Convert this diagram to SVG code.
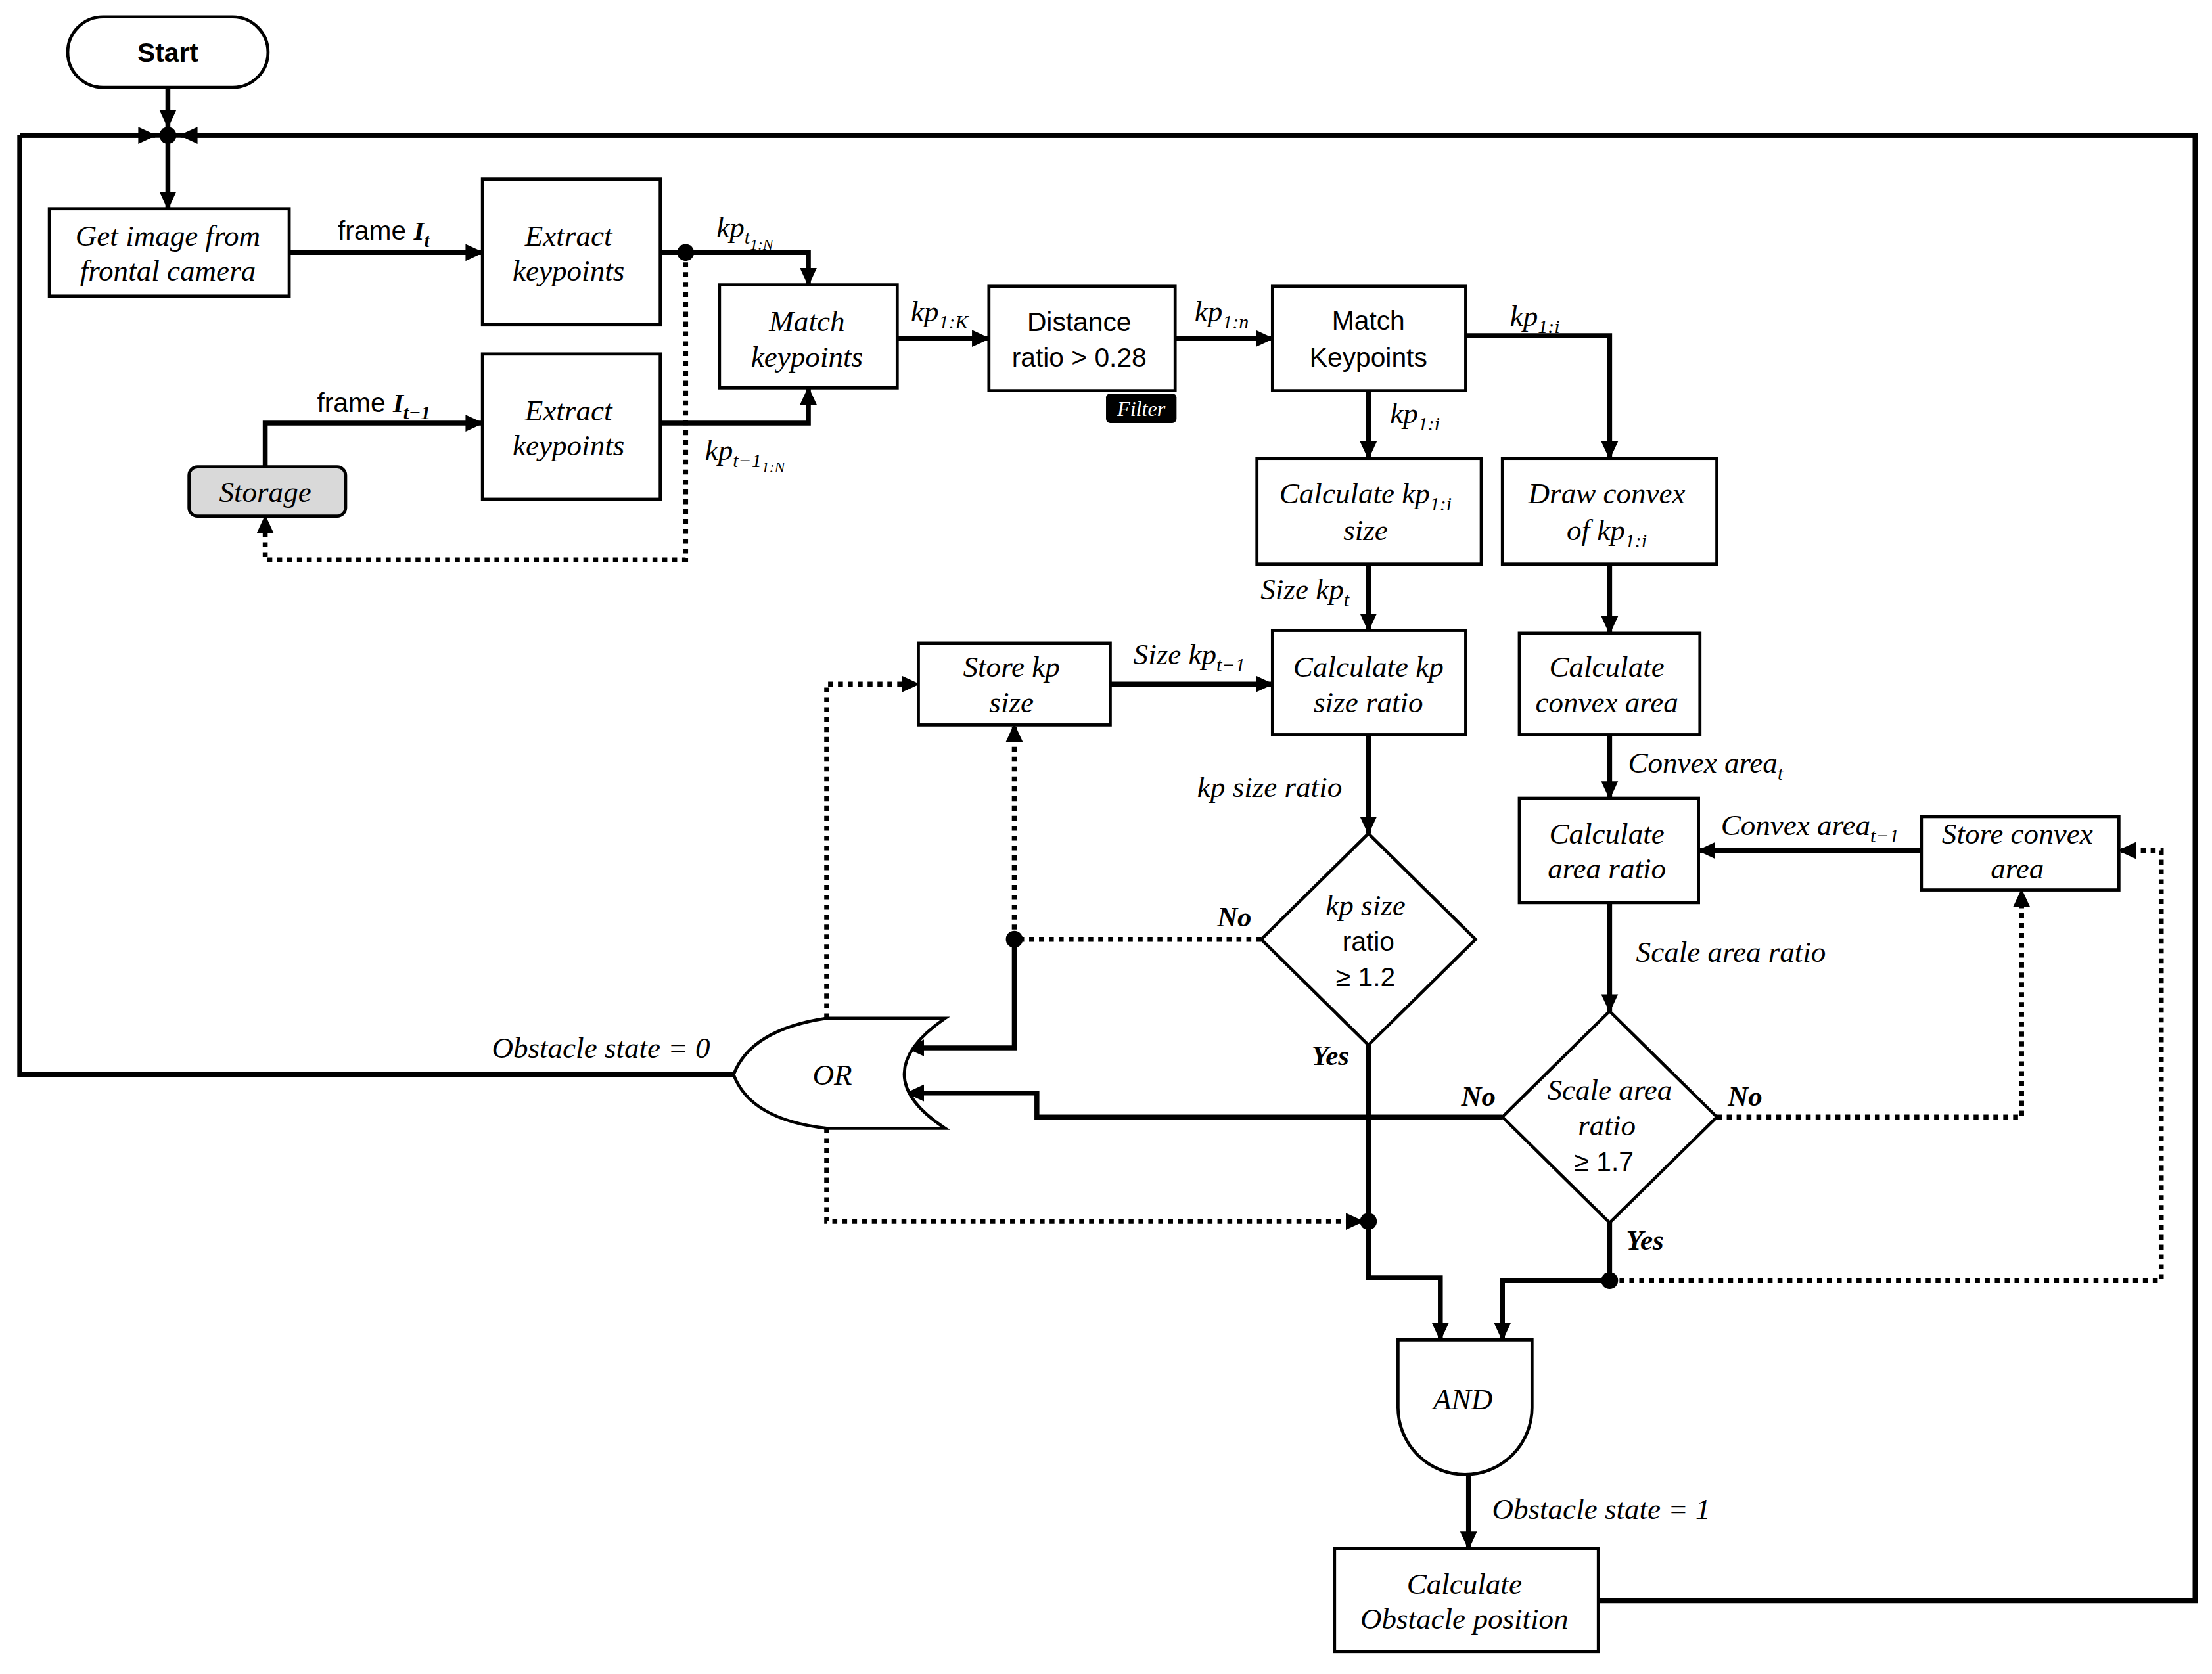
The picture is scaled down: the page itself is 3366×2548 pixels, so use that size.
<svg xmlns="http://www.w3.org/2000/svg" width="3366" height="2548" viewBox="0 0 3366 2548">
<defs>
<marker id="a" markerUnits="userSpaceOnUse" markerWidth="14" markerHeight="14" refX="12" refY="6" orient="auto" viewBox="0 0 14 12"><path d="M0,0 L13,6 L0,12 Z" fill="#000"/></marker>
</defs>
<style>
.b{fill:#fff;stroke:#000;stroke-width:2.2}
.l{fill:none;stroke:#000;stroke-width:3.5}
.d{fill:none;stroke:#000;stroke-width:3.5;stroke-dasharray:3.5 3.5}
.t{font-family:"Liberation Serif",serif;font-style:italic;font-size:21px;text-anchor:middle;fill:#000}
.n{font-family:"Liberation Sans",sans-serif;font-size:19px;text-anchor:middle;fill:#000}
.k{font-family:"Liberation Serif",serif;font-style:italic;font-weight:bold;font-size:20px;text-anchor:middle}
.s{font-size:14px}
</style>
<rect width="3366" height="2548" fill="#fff"/>
<g transform="scale(2.1467)">
<g id="connectors">
<path class="l" d="M14,96 H1556 V1135 H1133"/>
<path class="l" d="M14,96 V762 H520"/>
<path class="l" d="M14,96 H110" marker-end="url(#a)"/>
<path class="l" d="M1556,96 H128" marker-end="url(#a)"/>
<path class="l" d="M119,62 V90" marker-end="url(#a)"/>
<path class="l" d="M119,96 V148" marker-end="url(#a)"/>
<circle cx="119" cy="96" r="6"/>
<path class="l" d="M205,179 H342" marker-end="url(#a)"/>
<path class="l" d="M468,179 H573 V202" marker-end="url(#a)"/>
<circle cx="486" cy="179" r="6"/>
<path class="d" d="M486,179 V397 H188 V366" marker-end="url(#a)"/>
<path class="l" d="M188,331 V300 H342" marker-end="url(#a)"/>
<path class="l" d="M468,300 H573 V275" marker-end="url(#a)"/>
<path class="l" d="M636,240 H701" marker-end="url(#a)"/>
<path class="l" d="M833,240 H902" marker-end="url(#a)"/>
<path class="l" d="M1039,238 H1141 V325" marker-end="url(#a)"/>
<path class="l" d="M970,277 V325" marker-end="url(#a)"/>
<path class="l" d="M970,400 V447" marker-end="url(#a)"/>
<path class="l" d="M787,485 H902" marker-end="url(#a)"/>
<path class="l" d="M1141,400 V449" marker-end="url(#a)"/>
<path class="l" d="M1141,521 V566" marker-end="url(#a)"/>
<path class="l" d="M1362,603 H1204" marker-end="url(#a)"/>
<path class="l" d="M970,521 V591" marker-end="url(#a)"/>
<path class="d" d="M894,666 H719 V514" marker-end="url(#a)"/>
<circle cx="719" cy="666" r="6"/>
<path class="l" d="M719,666 V743 H643" marker-end="url(#a)"/>
<path class="l" d="M970,741 V906 H1021 V950" marker-end="url(#a)"/>
<circle cx="970" cy="866" r="6"/>
<path class="d" d="M586,722 V485 H651" marker-end="url(#a)"/>
<path class="d" d="M586,800 V866 H966" marker-end="url(#a)"/>
<path class="l" d="M1141,640 V717" marker-end="url(#a)"/>
<path class="l" d="M1065,792 H735 V775 H643" marker-end="url(#a)"/>
<path class="d" d="M1217,792 H1433 V631" marker-end="url(#a)"/>
<path class="l" d="M1141,867 V908 H1065 V950" marker-end="url(#a)"/>
<circle cx="1141" cy="908" r="6"/>
<path class="d" d="M1141,908 H1532 V603 H1502" marker-end="url(#a)"/>
<path class="l" d="M1041,1045 V1098" marker-end="url(#a)"/>
</g>
<g id="labels">
<text class="n" x="272" y="170">frame <tspan font-family="Liberation Serif" font-style="italic" font-weight="bold">I<tspan class="s" dy="5">t</tspan></tspan></text>
<text class="n" x="265" y="292">frame <tspan font-family="Liberation Serif" font-style="italic" font-weight="bold">I<tspan class="s" dy="5">t−1</tspan></tspan></text>
<text class="t" x="528" y="168">kp<tspan class="s" dy="5">t<tspan font-size="11" dy="4">1:N</tspan></tspan></text>
<text class="t" x="528" y="326">kp<tspan class="s" dy="5">t−1<tspan font-size="11" dy="4">1:N</tspan></tspan></text>
<text class="t" x="666" y="228">kp<tspan class="s" dy="5">1:K</tspan></text>
<text class="t" x="866" y="228">kp<tspan class="s" dy="5">1:n</tspan></text>
<text class="t" x="1088" y="231">kp<tspan class="s" dy="5">1:i</tspan></text>
<text class="t" x="1003" y="300">kp<tspan class="s" dy="5">1:i</tspan></text>
<text class="t" x="925" y="425">Size kp<tspan class="s" dy="5">t</tspan></text>
<text class="t" x="843" y="471">Size kp<tspan class="s" dy="5">t−1</tspan></text>
<text class="t" x="1209" y="548">Convex area<tspan class="s" dy="5">t</tspan></text>
<text class="t" x="1283" y="592">Convex area<tspan class="s" dy="5">t−1</tspan></text>
<text class="t" x="900" y="565">kp size ratio</text>
<text class="t" x="1227" y="682">Scale area ratio</text>
<text class="t" x="426" y="750">Obstacle state = 0</text>
<text class="t" x="1135" y="1077">Obstacle state = 1</text>
<text class="k" x="875" y="657">No</text>
<text class="k" x="943" y="755">Yes</text>
<text class="k" x="1048" y="784">No</text>
<text class="k" x="1237" y="784">No</text>
<text class="k" x="1166" y="886">Yes</text>
</g>
<g id="start"><rect class="b" x="48" y="12" width="142" height="50" rx="25"/><text class="n" x="119" y="44" font-weight="bold" font-size="21">Start</text></g>
<g id="get"><rect class="b" x="35" y="148" width="170" height="62"/><text class="t" x="119" y="174">Get image from</text><text class="t" x="119" y="199">frontal camera</text></g>
<g id="ext1"><rect class="b" x="342" y="127" width="126" height="103"/><text class="t" x="403" y="174">Extract</text><text class="t" x="403" y="199">keypoints</text></g>
<g id="ext2"><rect class="b" x="342" y="251" width="126" height="103"/><text class="t" x="403" y="298">Extract</text><text class="t" x="403" y="323">keypoints</text></g>
<g id="storage"><rect x="134" y="331" width="111" height="35" rx="6" fill="#d9d9d9" stroke="#000" stroke-width="2.2"/><text class="t" x="188" y="356">Storage</text></g>
<g id="match1"><rect class="b" x="510" y="202" width="126" height="73"/><text class="t" x="572" y="235">Match</text><text class="t" x="572" y="260">keypoints</text></g>
<g id="dist"><rect class="b" x="701" y="203" width="132" height="74"/><text class="n" x="765" y="235">Distance</text><text class="n" x="765" y="260">ratio &gt; 0.28</text>
<rect x="784" y="279" width="50" height="21" rx="3" fill="#000"/><text x="809" y="295" font-family="Liberation Serif" font-style="italic" font-size="15" fill="#fff" text-anchor="middle">Filter</text></g>
<g id="match2"><rect class="b" x="902" y="203" width="137" height="74"/><text class="n" x="970" y="234">Match</text><text class="n" x="970" y="260">Keypoints</text></g>
<g id="calcsize"><rect class="b" x="891" y="325" width="159" height="75"/><text class="t" x="968" y="357">Calculate kp<tspan class="s" dy="5">1:i</tspan></text><text class="t" x="968" y="383">size</text></g>
<g id="draw"><rect class="b" x="1065" y="325" width="152" height="75"/><text class="t" x="1139" y="357">Draw convex</text><text class="t" x="1139" y="383">of kp<tspan class="s" dy="5">1:i</tspan></text></g>
<g id="ratio"><rect class="b" x="902" y="447" width="137" height="74"/><text class="t" x="970" y="480">Calculate kp</text><text class="t" x="970" y="505">size ratio</text></g>
<g id="storekp"><rect class="b" x="651" y="456" width="136" height="58"/><text class="t" x="717" y="480">Store kp</text><text class="t" x="717" y="505">size</text></g>
<g id="area"><rect class="b" x="1077" y="449" width="128" height="72"/><text class="t" x="1139" y="480">Calculate</text><text class="t" x="1139" y="505">convex area</text></g>
<g id="arearatio"><rect class="b" x="1077" y="566" width="127" height="74"/><text class="t" x="1139" y="598">Calculate</text><text class="t" x="1139" y="623">area ratio</text></g>
<g id="storeconvex"><rect class="b" x="1362" y="579" width="140" height="52"/><text class="t" x="1430" y="598">Store convex</text><text class="t" x="1430" y="623">area</text></g>
<g id="d1"><path class="b" d="M970,591 L1046,666 L970,741 L894,666 Z"/><text class="t" x="968" y="649">kp size</text><text class="n" x="970" y="674">ratio</text><text class="n" x="968" y="699">≥ 1.2</text></g>
<g id="d2"><path class="b" d="M1141,717 L1217,792 L1141,867 L1065,792 Z"/><text class="t" x="1141" y="780">Scale area</text><text class="t" x="1139" y="805">ratio</text><text class="n" x="1137" y="830">≥ 1.7</text></g>
<g id="or"><path class="b" d="M670,722 L586,722 Q532,730 520,762 Q532,794 586,800 L670,800 Q612,762 670,722 Z"/><text class="t" x="590" y="769">OR</text></g>
<g id="and"><path class="b" d="M991,950 L1086,950 L1086,998 A47.5,47.5 0 0 1 991,998 Z"/><text class="t" x="1037" y="999">AND</text></g>
<g id="pos"><rect class="b" x="946" y="1098" width="187" height="73"/><text class="t" x="1038" y="1130">Calculate</text><text class="t" x="1038" y="1155">Obstacle position</text></g>
</g>
</svg>
